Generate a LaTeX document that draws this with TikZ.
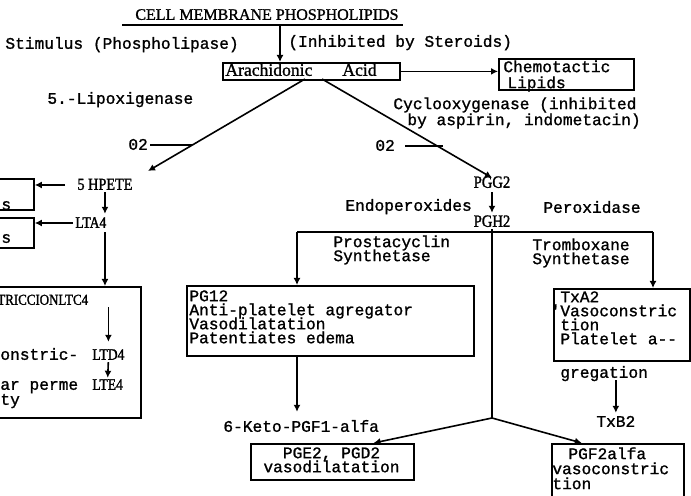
\documentclass[tikz,border=0pt]{standalone}
\usepackage{fontspec}
\usetikzlibrary{arrows.meta,calc}
\newfontfamily\twfont{Liberation Mono}[FakeBold=1.2]
\newfontfamily\prfont{Liberation Serif}[FakeBold=1.2]
\newfontfamily\cdfont{Liberation Serif}[FakeStretch=0.85,FakeBold=1.5]
\tikzset{
	tw/.style={font={\twfont\fontsize{8.1}{7}\selectfont\lineskiplimit=-10pt}},
	pr/.style={font={\prfont\fontsize{#1}{8}\selectfont}},
	cd/.style={font={\cdfont\fontsize{#1}{8}\selectfont}},
	lbl/.style={inner sep=0pt, anchor=west, text height=4.8pt, text depth=0pt},
	para/.style={tw, inner sep=0pt, anchor=north west, align=left},
	frame/.style={draw, line width=0.9pt, inner sep=0pt, anchor=north west},
	ln/.style={line width=0.8pt},
	arr/.style={line width=0.8pt, -{Latex[length=3.5pt,width=3.5pt]}}
}
\begin{document}
\begin{tikzpicture}[x=0.5pt,y=-0.5pt]
\useasboundingbox (0,0) rectangle (691,496);
\clip (0,0) rectangle (691,496);
% frames
\node[frame, minimum width=88.5pt, minimum height=8.5pt] (arach) at (222,62) {};
\node[frame, minimum width=67.5pt, minimum height=15.5pt] (chemo) at (498,58) {};
\node[frame, minimum width=50pt, minimum height=15.5pt] (lipa) at (-67,178) {};
\node[frame, minimum width=50pt, minimum height=15pt] (lipb) at (-67,217) {};
\node[frame, minimum width=100pt, minimum height=65.5pt] (lkt) at (-60,286) {};
\node[frame, minimum width=143.5pt, minimum height=35pt] (pgi) at (186,285) {};
\node[frame, minimum width=68pt, minimum height=36pt] (txa) at (553,288) {};
\node[frame, minimum width=81.5pt, minimum height=18pt] (pge) at (250,443) {};
\node[frame, minimum width=66pt, minimum height=40pt] (pgf) at (551,443) {};
% texts
\node[lbl, pr=8] (cell) at (135,15) {CELL MEMBRANE PHOSPHOLIPIDS};
\node[lbl, tw] (stim) at (5,44) {Stimulus (Phospholipase)};
\node[lbl, tw] (inhib) at (288,42) {(Inhibited by Steroids)};
\node[lbl, pr=8.8] (arachtxt) at (225,71) {Arachidonic\hspace{15pt}Acid};
\node[para] (chemotxt) at (503,60) {Chemotactic\\[1pt]\hspace{2pt}Lipids};
\node[lbl, tw] (lipox) at (47,99) {5.-Lipoxigenase};
\node[para] (cyclo) at (393,97) {Cyclooxygenase (inhibited\\[1pt]\hspace{7pt}by aspirin, indometacin)};
\node[lbl, tw] (o2l) at (128,145) {02};
\node[lbl, tw] (o2r) at (375,146) {02};
\node[lbl, cd=8.4] (hpete) at (77,185) {5 HPETE};
\node[lbl, cd=8] (lta) at (75,223) {LTA4};
\node[lbl, tw] (sa) at (1,205) {s};
\node[lbl, tw] (sb) at (1,238) {s};
\node[lbl, cd=7.6] (ltc) at (-3,300) {TRICCIONLTC4};
\node[lbl, tw] (ostr) at (0,355) {onstric-};
\node[lbl, cd=8] (ltd) at (92,355) {LTD4};
\node[lbl, tw] (arp) at (0,385) {ar perme};
\node[lbl, cd=8] (lte) at (92,385) {LTE4};
\node[lbl, tw] (ty) at (0,400) {ty};
\node[lbl, cd=8.6, anchor=center] (pgg) at (492,183) {PGG2};
\node[lbl, tw] (endo) at (345,206) {Endoperoxides};
\node[lbl, tw] (perox) at (543,208) {Peroxidase};
\node[lbl, cd=8.6, anchor=center] (pgh) at (492,222) {PGH2};
\node[para] (prosta) at (333,235) {Prostacyclin\\Synthetase};
\node[para] (trombo) at (532,238) {Tromboxane\\Synthetase};
\node[para] (pgitxt) at (189,290) {PG12\\Anti-platelet agregator\\Vasodilatation\\Patentiates edema};
\node[para] (txatxt) at (560,291) {TxA2\\\llap{'}Vasoconstric\\tion\\Platelet a-{}-};
\node[lbl, tw] (greg) at (560,373) {gregation};
\node[lbl, tw] (txb) at (596,422) {TxB2};
\node[lbl, tw] (keto) at (223,427) {6-Keto-PGF1-alfa};
\node[para, anchor=north, align=center] (pgetxt) at (331.5,447) {PGE2, PGD2\\vasodilatation};
\node[para] (pgftxt) at (552,447) {\hspace{8pt}PGF2alfa\\[0.5pt]vasoconstric\\[0.5pt]tion};
% connectors
\coordinate (ul1) at (122,25);
\coordinate (ul2) at (403,25);
\coordinate (stimc) at (280,25);
\coordinate (al) at (305,79);
\coordinate (ar) at (322,79);
\coordinate (hpin) at (148,171);
\coordinate (jl) at (192,145);
\coordinate (jr) at (443,146);
\coordinate (hl) at (297,232);
\coordinate (hr) at (653,232);
\coordinate (jn) at (pgh.south |- 0,418);
\draw[ln] (ul1) -- (ul2);
\draw[arr] (stimc) -- (stimc |- arach.north);
\draw[arr] (arach.east) -- (arach.east -| chemo.west);
\draw[arr] (al) -- (hpin);
\draw[ln, shorten <=1pt] (o2l.east) -- (jl);
\draw[arr] (ar) -- (pgg.north);
\draw[ln, shorten <=5pt] (o2r.east) -- (jr);
\draw[arr, shorten <=6pt] (hpete.west) -- (hpete.west -| lipa.east);
\draw[arr, shorten <=1pt] (lta.west) -- (lta.west -| lipb.east);
\draw[arr, shorten <=1pt, shorten >=2pt] (hpete.south) -- (hpete.south |- lta.north);
\draw[arr, shorten <=2pt] (hpete.south |- lta.south) -- (hpete.south |- lkt.north);
\draw[arr, shorten <=1pt, shorten >=4pt] (ltd |- ltc.south) -- (ltd.north);
\draw[arr, shorten <=1pt, shorten >=1pt] (ltd.south) -- (lte.north);
\draw[arr, shorten <=2pt, shorten >=2pt] (pgg.south) -- (pgh.north);
\draw[ln] (hl) -- (hr);
\draw[arr] (hl) -- (hl |- pgi.north);
\draw[arr] (hr) -- (hr |- txa.north);
\draw[ln, shorten <=1pt] (pgh.south) -- (jn);
\draw[arr] (jn) -- ($(pge.north west)!0.75!(pge.north east)$);
\draw[arr] (jn) -- ($(pgf.north west)!0.23!(pgf.north east)$);
\draw[arr, shorten >=5pt] (hl |- pgi.south) -- (hl |- keto.north);
\draw[arr, shorten <=1pt, shorten >=2pt] (txb |- greg.south) -- (txb.north);
\end{tikzpicture}
\end{document}
